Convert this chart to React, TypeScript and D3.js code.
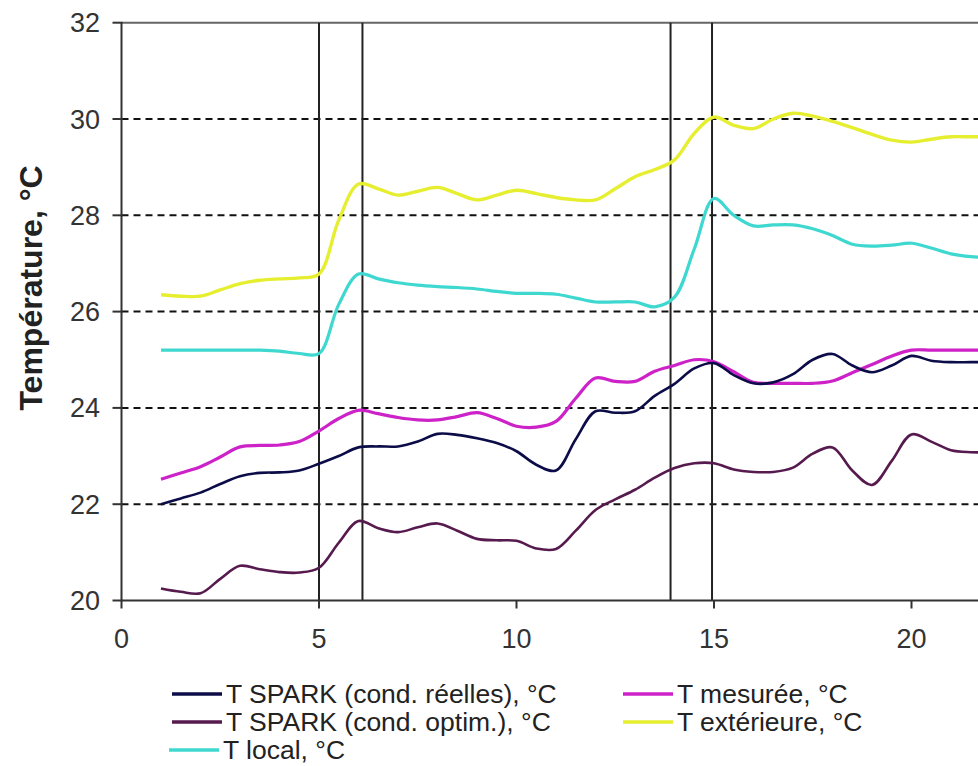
import React, { useEffect, useRef } from 'react';
import * as d3 from 'd3';

const X = [1, 1.5, 2, 2.5, 3, 3.5, 4, 4.5, 5, 5.5, 6, 6.5, 7, 7.5, 8, 8.5, 9, 9.5, 10, 10.5, 11, 11.5, 12, 12.5, 13, 13.5, 14, 14.5, 15, 15.5, 16, 16.5, 17, 17.5, 18, 18.5, 19, 19.5, 20, 20.5, 21, 21.5, 22];

const tSparkReelles = [22.0, 22.12, 22.24, 22.42, 22.58, 22.65, 22.66, 22.7, 22.84, 23.0, 23.18, 23.2, 23.2, 23.3, 23.46, 23.44, 23.37, 23.27, 23.1, 22.82, 22.7, 23.35, 23.93, 23.9, 23.93, 24.25, 24.5, 24.82, 24.93, 24.68, 24.51, 24.53, 24.7, 25.0, 25.12, 24.88, 24.74, 24.88, 25.08, 24.98, 24.95, 24.95, 24.95];

const tSparkOptim = [20.25, 20.18, 20.15, 20.45, 20.72, 20.65, 20.59, 20.58, 20.68, 21.2, 21.65, 21.5, 21.42, 21.52, 21.6, 21.45, 21.28, 21.25, 21.24, 21.08, 21.07, 21.45, 21.88, 22.1, 22.3, 22.55, 22.75, 22.85, 22.85, 22.72, 22.67, 22.67, 22.76, 23.05, 23.18, 22.7, 22.4, 22.9, 23.45, 23.3, 23.12, 23.08, 23.08];

const tLocal = [25.2, 25.2, 25.2, 25.2, 25.2, 25.2, 25.18, 25.13, 25.13, 26.15, 26.78, 26.68, 26.6, 26.55, 26.52, 26.5, 26.47, 26.42, 26.38, 26.38, 26.36, 26.28, 26.2, 26.2, 26.2, 26.1, 26.3, 27.3, 28.35, 28.0, 27.78, 27.8, 27.8, 27.72, 27.58, 27.4, 27.36, 27.38, 27.42, 27.32, 27.2, 27.14, 27.12];

const tMesuree = [22.52, 22.65, 22.78, 22.98, 23.19, 23.22, 23.23, 23.3, 23.52, 23.78, 23.95, 23.88, 23.8, 23.75, 23.75, 23.82, 23.9, 23.78, 23.62, 23.6, 23.72, 24.2, 24.62, 24.55, 24.55, 24.76, 24.88, 25.0, 24.96, 24.75, 24.53, 24.51, 24.51, 24.51, 24.56, 24.73, 24.9, 25.08, 25.2, 25.2, 25.2, 25.2, 25.2];

const tExterieure = [26.35, 26.32, 26.32, 26.45, 26.58, 26.65, 26.68, 26.7, 26.78, 27.9, 28.65, 28.55, 28.42, 28.5, 28.58, 28.45, 28.32, 28.42, 28.52, 28.45, 28.37, 28.32, 28.32, 28.55, 28.8, 28.95, 29.15, 29.7, 30.04, 29.87, 29.8, 30.0, 30.12, 30.06, 29.95, 29.82, 29.68, 29.56, 29.52, 29.58, 29.63, 29.63, 29.63];

const yTicks = [20, 22, 24, 26, 28, 30, 32];
const gridValues = [22, 24, 26, 28, 30];
const xTicks = [0, 5, 10, 15, 20];
const eventLines = [5, 6.1, 13.9, 14.95];

const seriesNames = [
  'T SPARK (cond. réelles), °C',
  'T SPARK (cond. optim.), °C',
  'T local, °C',
  'T mesurée, °C',
  'T extérieure, °C',
];
const seriesValues = [tSparkReelles, tSparkOptim, tLocal, tMesuree, tExterieure];
const seriesColors = ['#0c0c48', '#561a4e', '#3fd8d0', '#cc22c8', '#e6ee30'];
const seriesWidths = [2.6, 2.6, 3.2, 3.2, 3.4];
const drawOrder = [4, 2, 3, 1, 0];

const FONT = "'Liberation Sans', Arial, sans-serif";

export default function App() {
  const ref = useRef<SVGSVGElement>(null);

  useEffect(() => {
    const svg = d3.select(ref.current);
    svg.selectAll('*').remove();

    const x = d3.scaleLinear().domain([0, 25]).range([121.5, 1109]);
    const y = d3.scaleLinear().domain([20, 32]).range([600.5, 22.7]);
    const right = 978;

    svg.append('rect').attr('x', 0).attr('y', 0).attr('width', 978).attr('height', 766).attr('fill', '#ffffff');

    // dashed grid
    svg.append('g')
      .selectAll('line')
      .data(gridValues)
      .join('line')
      .attr('x1', x(0))
      .attr('x2', right)
      .attr('y1', (d) => y(d))
      .attr('y2', (d) => y(d))
      .attr('stroke', '#111')
      .attr('stroke-width', 2)
      .attr('stroke-dasharray', '7,5');

    // top border
    svg.append('line')
      .attr('x1', x(0)).attr('x2', right)
      .attr('y1', y(32)).attr('y2', y(32))
      .attr('stroke', '#666').attr('stroke-width', 2);

    // event vertical lines
    svg.append('g')
      .selectAll('line')
      .data(eventLines)
      .join('line')
      .attr('x1', (d) => x(d))
      .attr('x2', (d) => x(d))
      .attr('y1', y(32))
      .attr('y2', y(20))
      .attr('stroke', '#222')
      .attr('stroke-width', 2);

    // series
    const line = d3.line<number>()
      .x((_, i) => x(X[i]))
      .y((d) => y(d))
      .curve(d3.curveCatmullRom.alpha(0.5));

    drawOrder.forEach((si) => {
      svg.append('path')
        .datum(seriesValues[si])
        .attr('d', line)
        .attr('fill', 'none')
        .attr('stroke', seriesColors[si])
        .attr('stroke-width', seriesWidths[si])
        .attr('stroke-linejoin', 'round');
    });

    // axes lines
    svg.append('line')
      .attr('x1', x(0)).attr('x2', x(0))
      .attr('y1', y(32)).attr('y2', y(20))
      .attr('stroke', '#333').attr('stroke-width', 2);
    svg.append('line')
      .attr('x1', x(0)).attr('x2', right)
      .attr('y1', y(20)).attr('y2', y(20))
      .attr('stroke', '#333').attr('stroke-width', 2);

    // y ticks
    const yg = svg.append('g');
    yg.selectAll('line')
      .data(yTicks)
      .join('line')
      .attr('x1', x(0) - 9)
      .attr('x2', x(0) + 1)
      .attr('y1', (d) => y(d))
      .attr('y2', (d) => y(d))
      .attr('stroke', '#333')
      .attr('stroke-width', 2);
    yg.selectAll('text')
      .data(yTicks)
      .join('text')
      .attr('x', 100)
      .attr('y', (d) => y(d) + 9.5)
      .attr('text-anchor', 'end')
      .attr('font-family', FONT)
      .attr('font-size', 27)
      .attr('fill', '#333')
      .text((d) => String(d));

    // x ticks
    const xg = svg.append('g');
    xg.selectAll('line')
      .data(xTicks)
      .join('line')
      .attr('x1', (d) => x(d))
      .attr('x2', (d) => x(d))
      .attr('y1', y(20))
      .attr('y2', y(20) + 8)
      .attr('stroke', '#333')
      .attr('stroke-width', 2);
    xg.selectAll('text')
      .data(xTicks)
      .join('text')
      .attr('x', (d) => x(d))
      .attr('y', 648)
      .attr('text-anchor', 'middle')
      .attr('font-family', FONT)
      .attr('font-size', 27)
      .attr('fill', '#333')
      .text((d) => String(d));

    // y title
    svg.append('text')
      .attr('transform', 'translate(42,288) rotate(-90)')
      .attr('text-anchor', 'middle')
      .attr('font-family', FONT)
      .attr('font-size', 32)
      .attr('font-weight', 'bold')
      .attr('fill', '#222')
      .text('Température, °C');

    // legend
    const legendPos = [
      { lx: 172, row: 0 },
      { lx: 172, row: 1 },
      { lx: 169, row: 2 },
      { lx: 623, row: 0 },
      { lx: 623, row: 1 },
    ];
    const rowBase = [703, 731, 759];
    const lg = svg.append('g');
    seriesNames.forEach((name, i) => {
      const p = legendPos[i];
      const by = rowBase[p.row];
      lg.append('line')
        .attr('x1', p.lx).attr('x2', p.lx + 50)
        .attr('y1', by - 9).attr('y2', by - 9)
        .attr('stroke', seriesColors[i])
        .attr('stroke-width', 3.5);
      lg.append('text')
        .attr('x', p.lx + 54)
        .attr('y', by)
        .attr('font-family', FONT)
        .attr('font-size', 26.5)
        .attr('fill', '#222')
        .text(name);
    });
  }, []);

  return (
    <svg
      ref={ref}
      width={978}
      height={766}
      style={{ position: 'absolute', left: 0, top: 0, display: 'block' }}
    />
  );
}
